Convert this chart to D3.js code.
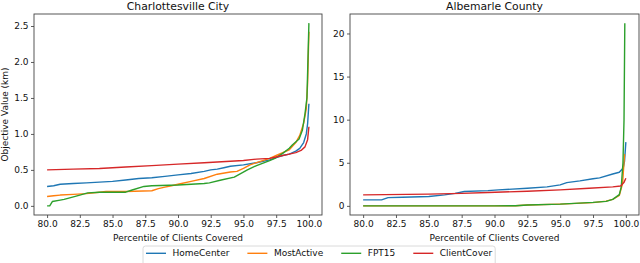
<!DOCTYPE html>
<html>
<head>
<meta charset="utf-8">
<script src="https://cdnjs.cloudflare.com/ajax/libs/d3/7.8.5/d3.min.js"></script>
<style>
  body { margin: 0; background: #fff; }
  svg { display: block; font-family: "DejaVu Sans", sans-serif; }
</style>
</head>
<body>
<svg id="svg" width="640" height="263"></svg>
<script>
// series names + colours (matplotlib tab10)
var seriesNames = ["HomeCenter", "MostActive", "FPT15", "ClientCover"];
var seriesColors = ["#1f77b4", "#ff7f0e", "#2ca02c", "#d62728"];

var panelTitles = ["Charlottesville City", "Albemarle County"];
var xTicks = [80, 82.5, 85, 87.5, 90, 92.5, 95, 97.5, 100];
var cityYTicks = [0, 0.5, 1.0, 1.5, 2.0, 2.5];
var countyYTicks = [0, 5, 10, 15, 20];

// Charlottesville City
var cityHomeX = [80, 80.5, 81, 82, 83, 84, 85, 86, 87, 88, 89, 90, 91, 92, 92.5, 93, 93.5, 94, 95, 96, 97, 97.5, 98, 98.5, 99, 99.3, 99.6, 99.8, 99.9, 100];
var cityHomeY = [0.27, 0.28, 0.30, 0.31, 0.32, 0.33, 0.34, 0.36, 0.38, 0.39, 0.41, 0.43, 0.45, 0.48, 0.50, 0.51, 0.53, 0.55, 0.57, 0.60, 0.64, 0.67, 0.70, 0.72, 0.76, 0.80, 0.88, 1.0, 1.14, 1.42];

var cityActiveX = [80, 80.5, 81, 82, 83, 84, 84.5, 86, 88, 88.5, 89, 89.5, 90, 91, 92, 93, 94, 94.5, 95, 95.5, 96, 97, 97.5, 98, 98.5, 99, 99.3, 99.6, 99.8, 99.9, 100];
var cityActiveY = [0.13, 0.14, 0.15, 0.16, 0.17, 0.19, 0.20, 0.20, 0.21, 0.24, 0.26, 0.28, 0.30, 0.34, 0.38, 0.44, 0.47, 0.48, 0.52, 0.57, 0.60, 0.66, 0.70, 0.74, 0.78, 0.88, 0.98, 1.15, 1.35, 1.7, 2.42];

var cityFptX = [80, 80.2, 80.4, 81, 81.3, 81.8, 82.5, 83.1, 84, 86, 86.5, 87.4, 88, 90, 92, 92.4, 93.3, 94.3, 95.3, 96, 97, 97.4, 98, 98.5, 98.75, 99.25, 99.5, 99.7, 99.85, 100];
var cityFptY = [0.0, 0.0, 0.06, 0.08, 0.09, 0.115, 0.15, 0.18, 0.19, 0.19, 0.22, 0.27, 0.28, 0.29, 0.31, 0.32, 0.36, 0.40, 0.50, 0.56, 0.63, 0.66, 0.73, 0.80, 0.85, 0.93, 1.05, 1.28, 1.5, 2.54];

var cityCoverX = [80, 82, 84, 86, 88, 90, 92, 94, 95, 96, 97, 97.5, 98, 98.5, 99, 99.4, 99.7, 99.9, 100];
var cityCoverY = [0.50, 0.51, 0.52, 0.54, 0.56, 0.58, 0.60, 0.62, 0.63, 0.65, 0.66, 0.68, 0.70, 0.72, 0.74, 0.77, 0.82, 0.92, 1.10];

// Albemarle County
var countyHomeX = [80, 81.4, 81.9, 83, 85, 86.2, 87, 87.7, 89.5, 90.3, 92.5, 94, 95, 95.5, 96.5, 97.5, 98, 99, 99.5, 99.8, 99.9, 100];
var countyHomeY = [0.69, 0.70, 0.96, 1.0, 1.08, 1.27, 1.45, 1.66, 1.77, 1.85, 2.05, 2.2, 2.43, 2.7, 2.9, 3.15, 3.25, 3.7, 3.9, 4.4, 5.2, 7.4];

var countyActiveX = [80, 85, 90, 91.6, 92.5, 95, 97.5, 98.5, 99, 99.5, 99.75, 99.9];
var countyActiveY = [0.0, 0.0, 0.0, 0.02, 0.1, 0.2, 0.38, 0.55, 0.75, 1.2, 2.6, 6.0];

var countyFptX = [80, 85, 90, 91.6, 92.5, 95, 97.5, 98.5, 99, 99.5, 99.65, 99.78, 99.86, 99.92];
var countyFptY = [0.0, 0.0, 0.0, 0.02, 0.1, 0.2, 0.4, 0.52, 0.75, 1.3, 2.2, 5, 10, 21.2];

var countyCoverX = [80, 85, 87.5, 89.5, 92.5, 95, 97.2, 99, 99.6, 99.85, 100];
var countyCoverY = [1.27, 1.36, 1.45, 1.55, 1.7, 1.85, 2.05, 2.2, 2.3, 2.7, 3.2];

function zipXY(xs, ys) {
    return xs.map(function(x, i) { return [x, ys[i]]; });
}

var panels = [
    {
        title: panelTitles[0], left: 34, right: 322, yTicks: cityYTicks, yFmt: ".1f",
        series: [zipXY(cityHomeX, cityHomeY), zipXY(cityActiveX, cityActiveY),
                 zipXY(cityFptX, cityFptY), zipXY(cityCoverX, cityCoverY)]
    },
    {
        title: panelTitles[1], left: 350, right: 639, yTicks: countyYTicks, yFmt: "d",
        series: [zipXY(countyHomeX, countyHomeY), zipXY(countyActiveX, countyActiveY),
                 zipXY(countyFptX, countyFptY), zipXY(countyCoverX, countyCoverY)]
    }
];

var svg = d3.select("#svg");
var plotTop = 14, plotBottom = 215;

// matplotlib style 5% margins
function padded(ext) {
    var m = (ext[1] - ext[0]) * 0.05;
    return [ext[0] - m, ext[1] + m];
}

panels.forEach(function(p) {
    var all = d3.merge(p.series);
    var xScale = d3.scaleLinear().domain(padded(d3.extent(all, function(d) { return d[0]; }))).range([p.left, p.right]);
    var yScale = d3.scaleLinear().domain(padded(d3.extent(all, function(d) { return d[1]; }))).range([plotBottom, plotTop]);

    var g = svg.append("g");

    var line = d3.line()
        .x(function(d) { return xScale(d[0]); })
        .y(function(d) { return yScale(d[1]); });

    p.series.forEach(function(s, i) {
        g.append("path")
            .datum(s)
            .attr("d", line)
            .attr("fill", "none")
            .attr("stroke", seriesColors[i])
            .attr("stroke-width", 1.4)
            .attr("stroke-linejoin", "round");
    });

    // axes
    var xa = g.append("g")
        .attr("transform", "translate(0," + plotBottom + ")")
        .call(d3.axisBottom(xScale).tickValues(xTicks).tickFormat(d3.format(".1f")).tickSizeInner(3).tickSizeOuter(0).tickPadding(3));
    var ya = g.append("g")
        .attr("transform", "translate(" + p.left + ",0)")
        .call(d3.axisLeft(yScale).tickValues(p.yTicks).tickFormat(d3.format(p.yFmt)).tickSizeInner(3).tickSizeOuter(0).tickPadding(2.5));
    [xa, ya].forEach(function(a) {
        a.select(".domain").remove();
        a.selectAll("text").attr("font-size", 9).attr("font-family", "DejaVu Sans").attr("fill", "#111");
        a.selectAll("line").attr("stroke", "#333").attr("stroke-width", 0.8);
    });

    // spines
    g.append("rect")
        .attr("x", p.left).attr("y", plotTop)
        .attr("width", p.right - p.left).attr("height", plotBottom - plotTop)
        .attr("fill", "none").attr("stroke", "#444").attr("stroke-width", 0.9);

    g.append("text")
        .attr("x", (p.left + p.right) / 2).attr("y", 9.5)
        .attr("text-anchor", "middle").attr("font-size", 10.8).attr("fill", "#111")
        .text(p.title);

    g.append("text")
        .attr("x", (p.left + p.right) / 2).attr("y", 241)
        .attr("text-anchor", "middle").attr("font-size", 9).attr("fill", "#111")
        .text("Percentile of Clients Covered");
});

svg.append("text")
    .attr("transform", "translate(7.5," + ((plotTop + plotBottom) / 2) + ") rotate(-90)")
    .attr("text-anchor", "middle").attr("font-size", 9).attr("fill", "#111")
    .text("Objective Value (km)");

// legend
var legend = svg.append("g");
var box = legend.append("rect")
    .attr("y", 246).attr("height", 24).attr("rx", 2.5)
    .attr("fill", "#fff").attr("stroke", "#d0d0d0").attr("stroke-width", 0.8);
var lx = 146;
seriesNames.forEach(function(name, i) {
    legend.append("line")
        .attr("x1", lx).attr("x2", lx + 20).attr("y1", 253.3).attr("y2", 253.3)
        .attr("stroke", seriesColors[i]).attr("stroke-width", 1.4);
    var t = legend.append("text")
        .attr("x", lx + 26.5).attr("y", 256.3).attr("font-size", 9).attr("fill", "#111")
        .text(name);
    lx = lx + 26.5 + t.node().getComputedTextLength() + 18;
});
box.attr("x", 143).attr("width", lx - 18 + 3 - 143);
</script>
</body>
</html>
